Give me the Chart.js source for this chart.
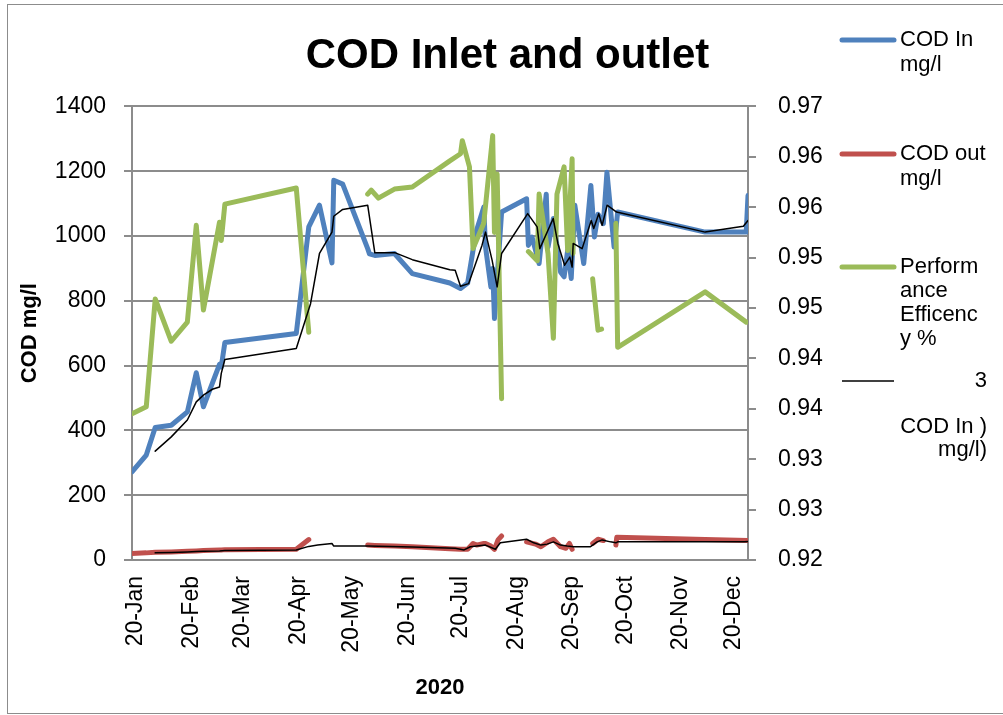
<!DOCTYPE html>
<html>
<head>
<meta charset="utf-8">
<title>COD Inlet and outlet</title>
<script src="https://cdn.jsdelivr.net/npm/chart.js@4.4.0/dist/chart.umd.min.js"></script>
<style>
  html, body { margin: 0; padding: 0; background: #fff; overflow: hidden; }
  #wrap { position: relative; width: 1003px; height: 715px; overflow: hidden; }
  #frame { position: absolute; left: 7px; top: 4px; width: 1010px; height: 710px; border: 1px solid #8c8c8c; box-sizing: border-box; }
  canvas { position: absolute; left: 0; top: 0; }
</style>
</head>
<body>
<div id="wrap">
  <div id="frame"></div>
  <canvas id="chart" width="1003" height="715"></canvas>
</div>
<script>
// x values are days of 2020 (1 Jan = 0)
const monthTickDays = [0, 31, 60, 91, 121, 152, 182, 213, 244, 274, 305, 335];
const monthTickLabels = ['20-Jan', '20-Feb', '20-Mar', '20-Apr', '20-May', '20-Jun',
  '20-Jul', '20-Aug', '20-Sep', '20-Oct', '20-Nov', '20-Dec'];

// right axis: Excel shows 2 decimals, so the 0.005 steps round
const rightTickValues = [0.92, 0.925, 0.93, 0.935, 0.94, 0.945, 0.95, 0.955, 0.96, 0.965];
const rightTickLabels = ['0.92', '0.93', '0.93', '0.94', '0.94', '0.95', '0.95', '0.96', '0.96', '0.97'];

// COD In mg/l
const inDays = [0, 8, 13, 22, 31, 36, 40, 49, 50, 52, 92, 99, 105, 112, 113, 118, 132, 133, 136, 147,
  157, 178, 184, 188, 191, 193, 197, 198, 201, 202, 203, 207, 221, 222, 224, 228, 232, 233, 236, 240,
  242, 244, 246, 248, 253, 257, 259, 261, 264, 266, 270, 272, 321, 344, 345];
const codIn = [272, 324, 409, 416, 457, 578, 473, 604, 596, 671, 699, 1028, 1095, 917, 1172, 1160, 961, 945, 940, 946,
  884, 855, 838, 855, 956, 1018, 1089, 966, 843, 900, 745, 1074, 1115, 971, 997, 915, 1129, 966, 1054, 889,
  874, 956, 869, 1095, 915, 1156, 997, 1067, 1038, 1197, 966, 1074, 1012, 1012, 1125];

// COD out mg/l (null = blank cell)
const outDays = [0, 8, 13, 22, 31, 36, 40, 49, 50, 52, 92, 99, 115, 132, 136, 147, 157, 178, 184, 188,
  191, 193, 197, 198, 201, 203, 205, 207, 214, 221, 226, 229, 233, 236, 240, 243, 245, 246.5, 252, 258,
  261, 264, 267, 271, 271.5, 321, 345];
const codOut = [20, 22, 24, 25, 27, 28, 29, 31, 31, 32, 33, 63, null, 46, 45, 43, 41, 35, 33, 33,
  51, 46, 51, 51, 43, 33, 62, 74, null, 56, 49, 41, 56, 64, 41, 36, 51, 33, null, 51,
  64, 60, null, 46, 70, 63, 60];

// Performance Efficency % (right axis)
const effDays = [0, 8, 13, 22, 31, 36, 40, 49, 50, 52, 92, 99, 110, 132, 134, 138, 147, 157, 178, 184,
  185, 189, 191, 197, 202, 203, 204.5, 207, 215, 222, 227, 228, 233, 236, 238, 242, 244, 246.5, 247, 252,
  258, 261, 263, 267, 271, 272, 321, 344];
const efficiency = [0.9345, 0.9352, 0.9459, 0.9417, 0.9436, 0.9532, 0.9448, 0.9535, 0.9517, 0.9553,
  0.9569, 0.9426, null, 0.9563, 0.9567, 0.9559, 0.9568, 0.9570, 0.9596, 0.9603,
  0.9616, 0.9590, 0.9509, 0.9534, 0.9621, 0.9525, 0.9583, 0.9360, null, 0.9506,
  0.9497, 0.9563, 0.9504, 0.9420, 0.9563, 0.9590, 0.9507, 0.9598, 0.9504, null,
  0.9479, 0.9428, 0.9429, null, 0.9534, 0.9411, 0.9466, 0.9436];

// 3 per. Mov. Avg. trendlines
const inAvgDays = [13, 22, 31, 36, 40, 45, 49, 50, 52, 92, 100, 105, 112, 113, 118, 132, 136, 147.5, 157, 178,
  181, 184, 188.5, 196, 198, 201.7, 204.5, 207, 221.6, 226.9, 228.4, 235.9, 238.5, 242.3, 245.2, 246.5, 247.1, 252.1, 257.2, 258.6,
  261.4, 263.3, 266.1, 271.4, 321, 342.4, 345];
const inAvg = [336, 380, 432, 488, 509, 527, 534, 576, 619, 653, 791, 946, 1012, 1061, 1082, 1095, 948, 948, 927, 896,
  894, 845, 853, 971, 1012, 925, 843, 946, 1069, 1028, 961, 1054, 977, 910, 935, 904, 977, 961, 1048, 1023,
  1069, 1033, 1095, 1074, 1012, 1030, 1048];
const outAvgDays = [13, 22, 31, 36, 40, 49, 52, 92, 99, 104, 112, 113, 132, 157, 181, 186, 189.5, 198, 203.5, 206.3,
  221, 225, 229, 232.5, 236, 240, 243.7, 247.4, 256.8, 260.5, 263.3, 268, 271, 272, 343, 345];
const outAvg = [22, 23, 25, 26, 27, 28, 29, 31, 42, 46, 51, 43, 43, 40, 36, 31, 41, 46, 33, 53,
  64, 53, 46, 49, 56, 46, 43, 41, 41, 56, 62, 56, 53, 56, 56, 57];

const FONT = "'Liberation Sans', Arial, sans-serif";
const GRID = '#8c8c8c';
const BLUE = '#4F81BD', RED = '#C0504D', GREEN = '#9BBB59';

Chart.defaults.font.family = FONT;
Chart.defaults.color = '#000';

const toPoints = (days, vals) => days.map((d, i) => ({ x: d, y: vals[i] }));

// legend on the right, wrapped the way Excel wrapped it
const legendItems = [
  { color: BLUE, width: 5, y: 40, gap: 24.5, lines: ['COD In', 'mg/l'], align: 'left' },
  { color: RED, width: 5, y: 154, gap: 24.5, lines: ['COD out', 'mg/l'], align: 'left' },
  { color: GREEN, width: 5, y: 267, gap: 24, lines: ['Perform', 'ance', 'Efficenc', 'y %'], align: 'left' },
  { color: '#000', width: 1.5, y: 381, gap: 23, lines: ['3', '', 'COD In )', 'mg/l)'], align: 'right' }
];

const sideLegend = {
  id: 'sideLegend',
  afterDraw(chart) {
    const ctx = chart.ctx;
    ctx.save();
    ctx.font = '22px ' + FONT;
    ctx.fillStyle = '#000';
    ctx.textBaseline = 'middle';
    legendItems.forEach(item => {
      ctx.strokeStyle = item.color;
      ctx.lineWidth = item.width;
      ctx.lineCap = item.width > 2 ? 'round' : 'butt';
      ctx.beginPath();
      ctx.moveTo(842, item.y);
      ctx.lineTo(894, item.y);
      ctx.stroke();
      ctx.textAlign = item.align;
      const tx = item.align === 'right' ? 987 : 900;
      item.lines.forEach((t, k) => ctx.fillText(t, tx, item.y + k * item.gap));
    });
    ctx.restore();
  }
};

new Chart(document.getElementById('chart'), {
  type: 'line',
  data: {
    datasets: [
      { label: '3 per. Mov. Avg. (COD In mg/l)', data: toPoints(inAvgDays, inAvg),
        borderColor: '#000', borderWidth: 1.5, yAxisID: 'y' },
      { label: '3 per. Mov. Avg. (COD out mg/l)', data: toPoints(outAvgDays, outAvg),
        borderColor: '#000', borderWidth: 1.5, yAxisID: 'y' },
      { label: 'Performance Efficency %', data: toPoints(effDays, efficiency),
        borderColor: GREEN, borderWidth: 5, yAxisID: 'y1' },
      { label: 'COD out mg/l', data: toPoints(outDays, codOut),
        borderColor: RED, borderWidth: 5, yAxisID: 'y' },
      { label: 'COD In mg/l', data: toPoints(inDays, codIn),
        borderColor: BLUE, borderWidth: 5, yAxisID: 'y' }
    ]
  },
  options: {
    responsive: false,
    animation: false,
    layout: { padding: { left: 12, right: 0, top: 0, bottom: 0 } },
    elements: {
      point: { radius: 0 },
      line: { tension: 0, borderCapStyle: 'round', borderJoinStyle: 'round', fill: false }
    },
    plugins: {
      legend: { display: false },
      tooltip: { enabled: false },
      title: {
        display: true,
        text: 'COD Inlet and outlet',
        color: '#000',
        font: { size: 42, weight: 'bold', family: FONT },
        padding: { top: 31, bottom: 25 }
      }
    },
    scales: {
      x: {
        type: 'linear',
        min: 0,
        max: 345,
        afterBuildTicks: axis => { axis.ticks = monthTickDays.map(v => ({ value: v })); },
        afterFit: axis => { axis.height = 155; },
        grid: { display: false, drawTicks: false },
        border: { display: true, color: GRID, width: 2 },
        ticks: {
          autoSkip: false,
          maxRotation: 90,
          minRotation: 90,
          padding: 16,
          labelOffset: 4,
          font: { size: 23 },
          callback: (v, i) => monthTickLabels[i]
        },
        title: { display: true, text: '2020', font: { size: 22, weight: 'bold' }, padding: { top: 0, bottom: 14 } }
      },
      y: {
        position: 'left',
        min: 0,
        max: 1400,
        afterFit: axis => { axis.width = 120; },
        ticks: { stepSize: 200, padding: 18, font: { size: 23 }, callback: v => String(v) },
        grid: { color: GRID, lineWidth: 2, tickLength: 8 },
        border: { color: GRID, width: 2 },
        title: { display: true, text: 'COD mg/l', font: { size: 22, weight: 'bold' }, padding: { top: 5, bottom: 0 } }
      },
      y1: {
        position: 'right',
        min: 0.92,
        max: 0.965,
        afterBuildTicks: axis => { axis.ticks = rightTickValues.map(v => ({ value: v })); },
        afterFit: axis => { axis.width = 255; },
        ticks: { padding: 22, font: { size: 23 }, callback: (v, i) => rightTickLabels[i] },
        grid: { drawOnChartArea: false, color: GRID, lineWidth: 2, tickLength: 8 },
        border: { color: GRID, width: 2 }
      }
    }
  },
  plugins: [sideLegend]
});
</script>
</body>
</html>
